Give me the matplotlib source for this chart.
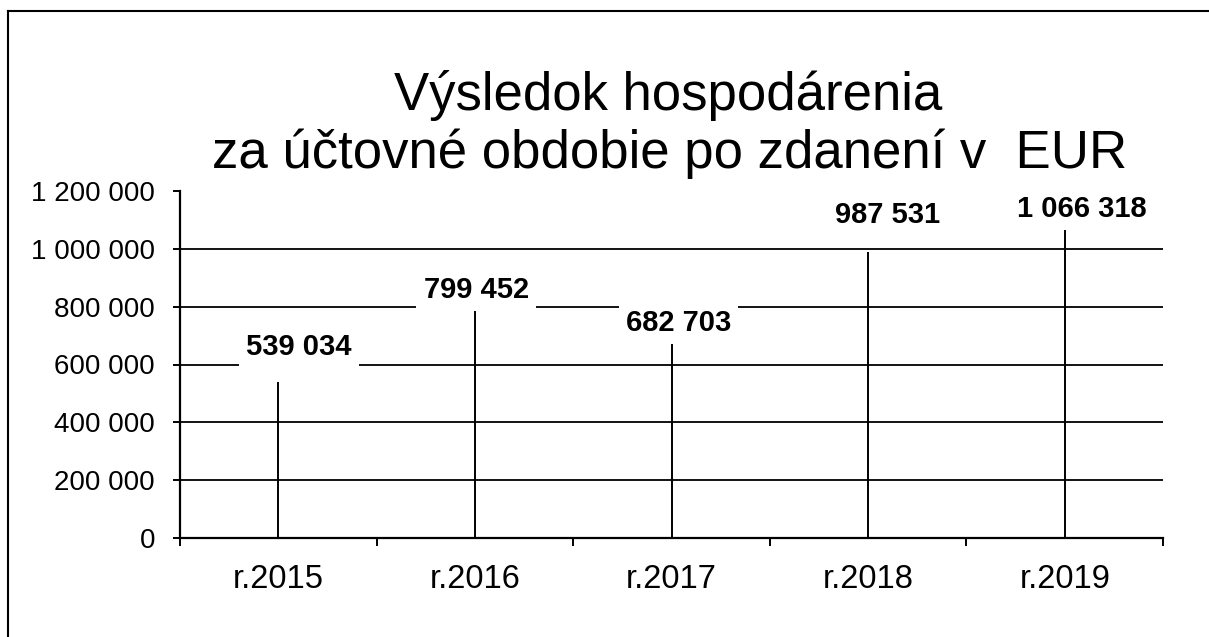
import numpy as np
import matplotlib
matplotlib.use('Agg')
from matplotlib import pyplot as plt
from matplotlib.lines import Line2D

years = ['r.2015', 'r.2016', 'r.2017', 'r.2018', 'r.2019']
profit = [539034, 799452, 682703, 987531, 1066318]
value_labels = ['539 034', '799 452', '682 703', '987 531', '1 066 318']
yticks = [0, 200000, 400000, 600000, 800000, 1000000, 1200000]
ytick_labels = ['0', '200 000', '400 000', '600 000', '800 000', '1 000 000', '1 200 000']

# label nudges (points) - the original labels are not evenly placed
label_dx = [15, 1, 5, 14, 12]
label_dy = [25, 12, 13, 27, 15]

plt.rcParams['font.family'] = ['Liberation Sans', 'DejaVu Sans']

fig = plt.figure(figsize=(12.09, 6.37), dpi=100)
ax = fig.add_axes([180/1209, 1-538/637, (1163-180)/1209, (538-191)/637])

x = np.arange(len(years))
for y in yticks[1:-1]:
    ax.axhline(y, color='black', lw=1.3, zorder=1)
ax.vlines(x, 0, profit, color='black', lw=1.4, zorder=2)

for i in range(len(x)):
    ax.annotate(value_labels[i], (x[i], profit[i]), xytext=(label_dx[i], label_dy[i]),
                textcoords='offset points', ha='center', va='center',
                fontsize=21, fontweight='bold', zorder=5,
                bbox=dict(boxstyle='square,pad=0.25', fc='white', ec='none'))

ax.set_xlim(-0.5, len(years) - 0.5)
ax.set_ylim(0, 1200000)
ax.set_yticks(yticks)
ax.set_yticklabels(ytick_labels, fontsize=20)
ax.set_xticks(x)
ax.set_xticklabels(years, fontsize=23.5)
ax.set_xticks(np.arange(len(years) + 1) - 0.5, minor=True)
ax.tick_params(axis='x', which='major', length=0, pad=19)
ax.tick_params(axis='x', which='minor', length=6, width=1.4, direction='out')
ax.tick_params(axis='y', length=5, width=1.4, direction='out', pad=13)

for s in ['top', 'right']:
    ax.spines[s].set_visible(False)
for s in ['left', 'bottom']:
    ax.spines[s].set_linewidth(1.6)
    ax.spines[s].set_zorder(3)

fig.text(668/1209, 1-110/637, 'Výsledok hospodárenia', ha='center', va='baseline', fontsize=38)
fig.text(670/1209, 1-168/637, 'za účtovné obdobie po zdanení v  EUR', ha='center', va='baseline', fontsize=38)

# page border from the scan
fig.add_artist(Line2D([8/1209, 8/1209], [0, 1-11/637], color='black', lw=1.5, transform=fig.transFigure))
fig.add_artist(Line2D([8/1209, 1], [1-11/637, 1-11/637], color='black', lw=1.5, transform=fig.transFigure))

fig.savefig('out.png', dpi=100)
